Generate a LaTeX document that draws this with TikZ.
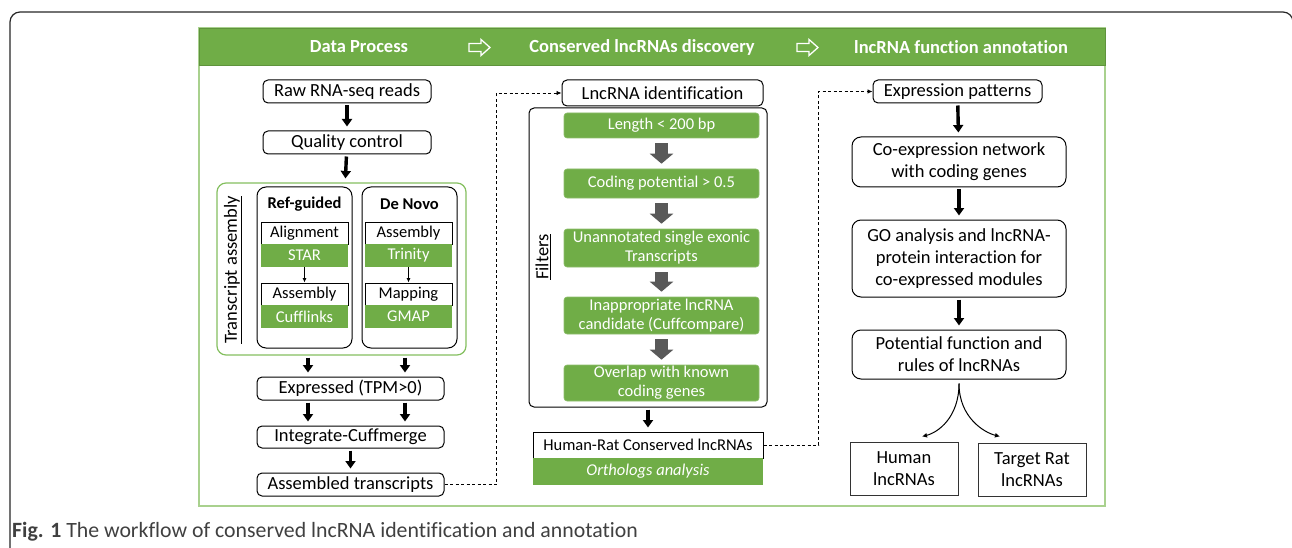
\documentclass[tikz,border=0pt]{standalone}
\usepackage{fontspec}
\setmainfont{Carlito}[Ligatures={NoCommon}]
\usetikzlibrary{arrows.meta,calc}
\definecolor{hgreen}{HTML}{70AD47}
\definecolor{lgreen}{HTML}{A9D18E}
\definecolor{ggreen}{HTML}{84BF5F}
\definecolor{agray}{HTML}{595959}
\definecolor{capgray}{HTML}{404040}
\newcommand\myBig{\fontsize{18.5pt}{22pt}\selectfont}
\newcommand\myMid{\fontsize{16.5pt}{19pt}\selectfont}
\newcommand\myCap{\fontsize{21.8pt}{25pt}\selectfont}
\begin{document}
\begin{tikzpicture}[x=1pt,y=-1pt,
  fbox/.style={draw=black, line width=1pt, rounded corners=5pt, inner sep=0pt, align=center, font=\myBig},
  rbox/.style={draw=black, line width=1pt, rounded corners=9pt, inner sep=0pt, align=center, font=\myBig},
  wbox/.style={draw=black, line width=0.9pt, inner sep=0pt, align=center, font=\myMid},
  gbox/.style={fill=hgreen, inner sep=0pt, align=center, font=\myMid, text=white},
  fgbox/.style={fill=hgreen, draw=hgreen!80!white, line width=0.6pt, rounded corners=3pt, inner sep=0pt, align=center, font=\myMid, text=white},
  sqbox/.style={draw=black!80, line width=1pt, inner sep=0pt, align=center, font=\myBig},
  blk/.style={line width=3.4pt, -{Triangle[width=10pt,length=7.5pt]}, shorten <=2pt, shorten >=4pt},
  gblk/.style={draw=agray, line width=13pt, -{Triangle[width=23pt,length=10pt]}, shorten <=5pt, shorten >=5pt},
  thin/.style={line width=0.9pt, -{Latex[length=4.5pt,width=4pt]}},
  cur/.style={line width=1pt, -{Latex[length=5pt,width=5pt]}},
  dsh/.style={dash pattern=on 3pt off 2.5pt, line width=0.8pt, -{Latex[length=5pt,width=4.5pt]}},
  htext/.style={text=white, font=\myBig\bfseries, inner sep=0pt}
]
\useasboundingbox (0,0) rectangle (1292,548);
% outer frame
\draw[line width=1.2pt, draw=black!85, rounded corners=10pt] (10,12) rectangle (1293,640);
% panel and header
\node[draw=lgreen, line width=1.3pt, minimum width=906pt, minimum height=478pt, inner sep=0pt] (panel) at (652,267) {};
\node[fill=hgreen, draw=hgreen!85!black, line width=0.7pt, minimum width=906pt, minimum height=37pt, inner sep=0pt] (head) at (652,46.5) {};
\node[htext] (hd1) at (359,47) {Data Process};
\node[htext] (hd2) at (642,47) {Conserved lncRNAs discovery};
\node[htext] (hd3) at (961,47) {lncRNA function annotation};
\foreach \cx in {469,797}
  \draw[white, line width=1.3pt, line join=miter] (\cx,43.5) -- (\cx+12,43.5) -- (\cx+12,39.5) -- (\cx+21,47.5) -- (\cx+12,55.5) -- (\cx+12,51.5) -- (\cx,51.5) -- cycle;

% ---------- left column ----------
\node[fbox, minimum width=168pt, minimum height=23pt] (raw) at (347,91.5) {Raw RNA-seq reads};
\node[fbox, minimum width=168pt, minimum height=23pt] (qc) at (347,142.5) {Quality control};
\node[draw=ggreen, line width=1.2pt, rounded corners=9pt, minimum width=249pt, minimum height=172pt, inner sep=0pt] (grp) at (341.5,269) {};
\node[draw=black, line width=1pt, rounded corners=9pt, minimum width=95pt, minimum height=161pt, inner sep=0pt] (ref) at (304.5,267.5) {};
\node[draw=black, line width=1pt, rounded corners=9pt, minimum width=95pt, minimum height=161pt, inner sep=0pt] (den) at (409.5,267.5) {};
\node[font=\myMid\bfseries, inner sep=0pt] (reflab) at (304.5,204) {Ref-guided};
\node[font=\myMid\bfseries, inner sep=0pt] (denlab) at (409.5,204) {De Novo};
\node[wbox, minimum width=87pt, minimum height=22pt] (aln) at (304.5,233) {Alignment};
\node[gbox, minimum width=87pt, minimum height=23pt] (star) at (304.5,255.5) {STAR};
\node[wbox, minimum width=87pt, minimum height=22pt] (asmA) at (304.5,294) {Assembly};
\node[gbox, minimum width=87pt, minimum height=23pt] (cuff) at (304.5,316.5) {Cufflinks};
\node[wbox, minimum width=87pt, minimum height=22pt] (asmB) at (408.5,233) {Assembly};
\node[gbox, minimum width=87pt, minimum height=23pt] (trin) at (408.5,255.5) {Trinity};
\node[wbox, minimum width=87pt, minimum height=22pt] (mapp) at (408.5,294) {Mapping};
\node[gbox, minimum width=87pt, minimum height=23pt] (gmap) at (408.5,316.5) {GMAP};
\node[rotate=90, font=\myBig, inner sep=0pt] (tlab) at (233,270) {\underline{Transcript assembly}};
\draw[thin] (star.south) -- (asmA.north);
\draw[thin] (trin.south) -- (mapp.north);
\node[fbox, minimum width=187pt, minimum height=23pt] (expr) at (350.5,388.5) {Expressed (TPM>0)};
\node[fbox, minimum width=187pt, minimum height=22pt] (integ) at (350.5,437) {Integrate-Cuffmerge};
\node[fbox, minimum width=187pt, minimum height=23pt] (assem) at (350.5,484.5) {Assembled transcripts};
\draw[blk] (raw) -- (qc);
\draw[blk] (qc) -- (grp);
\draw[blk] ([xshift=3.5pt]ref.south |- grp.south) -- ([xshift=3.5pt]ref.south |- expr.north);
\draw[blk] ([xshift=-4.5pt]den.south |- grp.south) -- ([xshift=-4.5pt]den.south |- expr.north);
\draw[blk] ([xshift=-42.5pt]expr.south) -- ([xshift=-42.5pt]integ.north);
\draw[blk] ([xshift=54.5pt]expr.south) -- ([xshift=54.5pt]integ.north);
\draw[blk] (integ) -- (assem);

% ---------- middle column ----------
\node[fbox, minimum width=201pt, minimum height=26pt] (lnc) at (662.5,93) {LncRNA identification};
\node[draw=black, line width=1pt, rounded corners=5pt, minimum width=238pt, minimum height=299pt, inner sep=0pt] (filt) at (648,257.5) {};
\node[fgbox, minimum width=195pt, minimum height=25pt] (g1) at (661.5,125.5) {Length < 200 bp};
\node[fgbox, minimum width=195pt, minimum height=29pt] (g2) at (661.5,183.5) {Coding potential > 0.5};
\node[fgbox, minimum width=195pt, minimum height=38pt] (g3) at (661.5,248) {Unannotated single exonic\\Transcripts};
\node[fgbox, minimum width=195pt, minimum height=37pt] (g4) at (661.5,315.5) {Inappropriate lncRNA\\candidate (Cuffcompare)};
\node[fgbox, minimum width=195pt, minimum height=36pt] (g5) at (661.5,383) {Overlap with known\\coding genes};
\draw[gblk] (g1) -- (g2);
\draw[gblk] (g2) -- (g3);
\draw[gblk] (g3) -- (g4);
\draw[gblk] (g4) -- (g5);
\node[rotate=90, font=\myBig, inner sep=0pt] (flab) at (543,257) {\underline{Filters}};
\node[draw=black, line width=1pt, fill=white, minimum width=230pt, minimum height=26pt, inner sep=0pt, font=\myMid] (hr) at (648,445) {Human-Rat Conserved lncRNAs};
\node[gbox, minimum width=230pt, minimum height=27pt, font=\myMid\itshape] (orth) at (648,471.5) {Orthologs analysis};
\draw[blk] (filt) -- (hr);
\draw[dsh] (assem.east) -- ++(52,0) |- (lnc.west);

% ---------- right column ----------
\node[fbox, minimum width=169pt, minimum height=23pt] (exp) at (957.5,91.5) {Expression patterns};
\node[rbox, minimum width=214pt, minimum height=50pt] (coexp) at (959,162) {Co-expression network\\with coding genes};
\node[rbox, minimum width=214pt, minimum height=77pt] (go) at (959,258.5) {GO analysis and lncRNA-\\protein interaction for\\co-expressed modules};
\node[rbox, minimum width=214pt, minimum height=49pt] (pot) at (959,354.5) {Potential function and\\rules of lncRNAs};
\node[sqbox, minimum width=108pt, minimum height=53pt] (hum) at (904,468.5) {Human\\lncRNAs};
\node[sqbox, minimum width=108pt, minimum height=53pt] (tgt) at (1032,469.5) {Target Rat\\lncRNAs};
\draw[dsh] (hr.east) -- ++(55,0) |- (exp.west);
\draw[blk] (exp) -- (coexp);
\draw[blk] (coexp) -- (go);
\draw[blk] (go) -- (pot);
\draw[cur] ([yshift=-4pt]pot.south) .. controls +(0,34) and +(16,-4) .. ([xshift=18pt,yshift=5pt]hum.north);
\draw[cur] ([yshift=-4pt]pot.south) .. controls +(0,34) and +(-16,-4) .. ([xshift=-32pt,yshift=6pt]tgt.north);

% caption
\node[anchor=west, font=\myCap, text=capgray, inner sep=0pt] (cap) at (12,532) {\textbf{Fig. 1} The workflow of conserved lncRNA identification and annotation};
\end{tikzpicture}
\end{document}
